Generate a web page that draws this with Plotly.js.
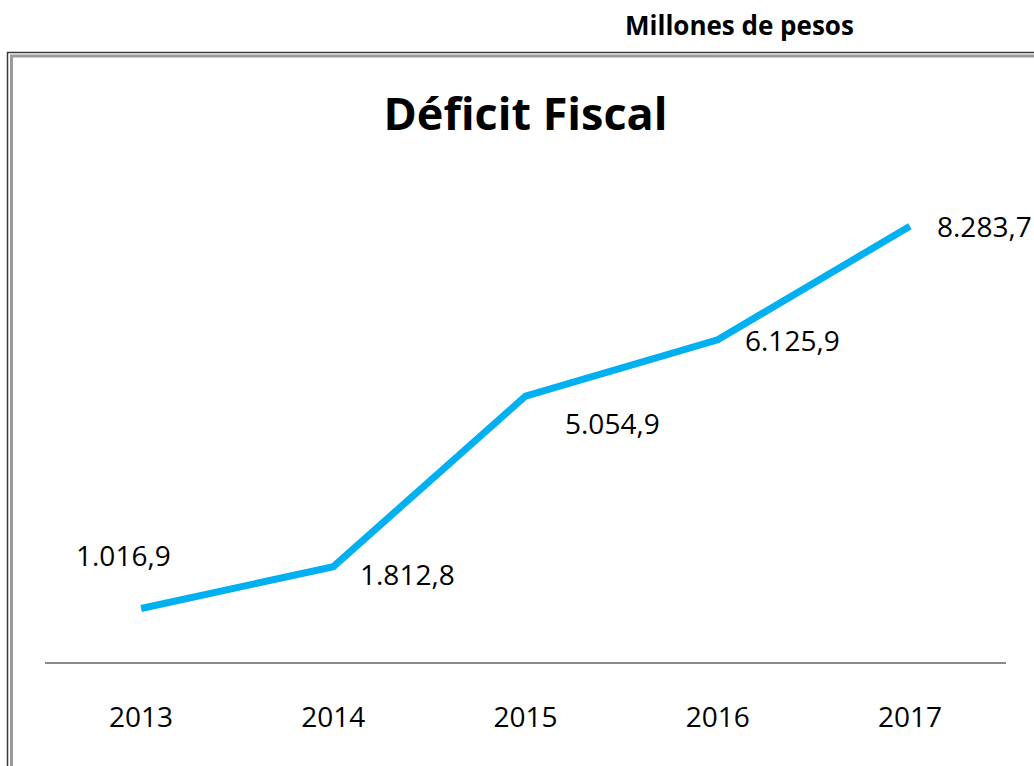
<!DOCTYPE html>
<html>
<head>
<meta charset="utf-8">
<script src="https://cdn.plot.ly/plotly-3.0.1.min.js"></script>
<style>
  html, body { margin: 0; padding: 0; background: #fff; }
  #chart { width: 1034px; height: 766px; }
</style>
</head>
<body>
<div id="chart"></div>
<script>
// Data
const years = ['2013', '2014', '2015', '2016', '2017'];
const deficit = [1016.9, 1812.8, 5054.9, 6125.9, 8283.7];
const labels = ['1.016,9', '1.812,8', '5.054,9', '6.125,9', '8.283,7'];
const chartTitle = 'Déficit Fiscal';
const unitNote = 'Millones de pesos';

// Layout geometry (pixels)
const W = 1034, H = 766;
const mL = 45, mR = 28, mT = 136, mB = 104;
const plotW = W - mL - mR, plotH = H - mT - mB;
const px2x = px => (px - mL) / plotW;
const py2y = py => (H - mB - py) / plotH;

// label offsets relative to each point (pixels)
const shifts = [[-18, 54], [74, -7], [87, -27], [75, 0], [75, 0]];

const font = '"Open Sans", "Noto Sans", sans-serif';

const annotations = years.map((y, i) => ({
  x: i, y: deficit[i], xref: 'x', yref: 'y',
  text: labels[i], showarrow: false,
  xshift: shifts[i][0], yshift: shifts[i][1],
  xanchor: 'center', yanchor: 'middle',
  font: {family: font, size: 28, color: '#000'}
}));
annotations.push({
  xref: 'paper', yref: 'paper', x: px2x(739), y: py2y(25),
  text: '<b>' + unitNote + '</b>', showarrow: false,
  xanchor: 'center', yanchor: 'middle',
  font: {family: font, size: 26, color: '#000'}
});

const shapes = [
  {type: 'rect', xref: 'paper', yref: 'paper',
   x0: px2x(7.5), x1: px2x(1060), y0: py2y(800), y1: py2y(52.5),
   line: {color: '#3a3a3a', width: 1.5}, fillcolor: 'rgba(0,0,0,0)', layer: 'below'},
  {type: 'rect', xref: 'paper', yref: 'paper',
   x0: px2x(11.5), x1: px2x(1060), y0: py2y(800), y1: py2y(56),
   line: {color: '#9a9a9a', width: 3}, fillcolor: 'rgba(0,0,0,0)', layer: 'below'}
];

const trace = {
  type: 'scatter', mode: 'lines',
  x: years, y: deficit,
  line: {color: '#00B0F0', width: 7},
  hoverinfo: 'skip'
};

const layout = {
  width: W, height: H,
  margin: {l: mL, r: mR, t: mT, b: mB, pad: 0},
  paper_bgcolor: '#ffffff', plot_bgcolor: 'rgba(0,0,0,0)',
  showlegend: false,
  title: {
    text: '<b>' + chartTitle + '</b>',
    xref: 'paper', x: 0.5, xanchor: 'center',
    yref: 'container', y: 1 - 114 / H, yanchor: 'middle',
    font: {family: font, size: 45, color: '#000'}
  },
  xaxis: {
    type: 'category', range: [-0.5, 4.5],
    showline: true, linecolor: '#8a8a8a', linewidth: 2,
    showgrid: false, zeroline: false,
    ticks: 'outside', ticklen: 29, tickcolor: 'rgba(0,0,0,0)',
    tickfont: {family: font, size: 28, color: '#000'}
  },
  yaxis: {
    range: [0, 10000], showticklabels: false, showgrid: false,
    zeroline: false, showline: false, ticks: '', fixedrange: true
  },
  annotations: annotations,
  shapes: shapes
};

Plotly.newPlot('chart', [trace], layout, {staticPlot: true, displayModeBar: false});
</script>
</body>
</html>
